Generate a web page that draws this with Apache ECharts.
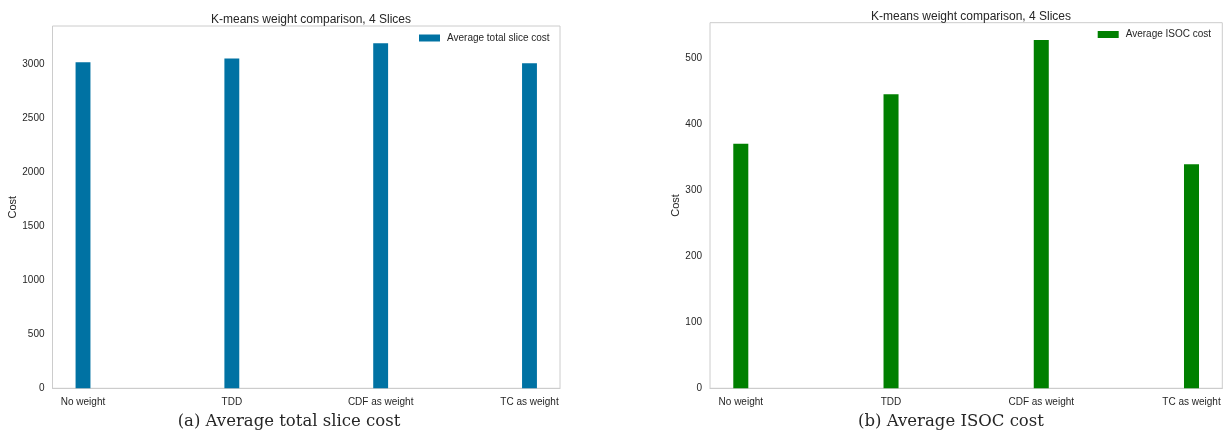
<!DOCTYPE html>
<html>
<head>
<meta charset="utf-8">
<script src="https://cdn.jsdelivr.net/npm/echarts@6/dist/echarts.min.js"></script>
<style>
  html, body { margin: 0; padding: 0; background: #fff; }
  #chart { width: 1230px; height: 432px; }
</style>
</head>
<body>
<div id="chart"></div>
<script>
// Weighting schemes compared in both panels
const categories = ['No weight', 'TDD', 'CDF as weight', 'TC as weight'];
// (a) average total slice cost per scheme
const totalSliceCost = [3015, 3050, 3190, 3005];
// (b) average ISOC cost per scheme
const isocCost = [370, 445, 527, 339];
// y-axis tick steps
const leftTickStep = 500;
const rightTickStep = 100;

const FONT = '"Liberation Sans", Arial, sans-serif';
const SERIF = '"DejaVu Serif", serif';
const TEXT = '#262626';
const FRAME = '#cccccc';
const BLUE = '#0072a3';
const GREEN = '#008000';

// bars sit at integer x positions with width 0.1; x range padded by 5% like matplotlib
const BAR_W = 0.1;
const xMin = -BAR_W / 2 - 0.05 * (categories.length - 1 + BAR_W);
const xMax = categories.length - 1 + BAR_W / 2 + 0.05 * (categories.length - 1 + BAR_W);

const grids = [
  { left: 52.5, top: 26, width: 507.5, height: 362.3 },
  { left: 710, top: 22.7, width: 512.3, height: 365.6 }
];
const barPx = grids.map(g => g.width / (xMax - xMin) * BAR_W);

function pairs(vals) { return vals.map((v, i) => [i, v]); }

function xAxis(gi) {
  return {
    type: 'value', gridIndex: gi, min: xMin, max: xMax,
    splitLine: { show: false },
    axisTick: { show: false },
    axisLine: { show: true, onZero: false, lineStyle: { color: FRAME, width: 1 } },
    axisLabel: {
      customValues: categories.map((c, i) => i),
      formatter: v => categories[Math.round(v)] || '',
      color: TEXT, fontFamily: FONT, fontSize: 10, margin: 9
    }
  };
}
function yAxis(gi, maxVal, step, gap) {
  return {
    type: 'value', gridIndex: gi, min: 0, max: maxVal * 1.05, interval: step,
    name: 'Cost', nameLocation: 'middle', nameRotate: 90, nameGap: gap,
    nameTextStyle: { color: TEXT, fontFamily: FONT, fontSize: 11 },
    splitLine: { show: false },
    axisTick: { show: false },
    axisLine: { show: false },
    axisLabel: { color: TEXT, fontFamily: FONT, fontSize: 10, margin: 8, showMaxLabel: false,
      formatter: v => String(v) }
  };
}

const chart = echarts.init(document.getElementById('chart'), null, { renderer: 'canvas' });
chart.setOption({
  animation: false,
  backgroundColor: '#fff',
  title: [
    { text: 'K-means weight comparison, 4 Slices', left: 306, top: 9, textAlign: 'center',
      textStyle: { color: TEXT, fontFamily: FONT, fontSize: 12, fontWeight: 'normal' } },
    { text: 'K-means weight comparison, 4 Slices', left: 966, top: 5.5, textAlign: 'center',
      textStyle: { color: TEXT, fontFamily: FONT, fontSize: 12, fontWeight: 'normal' } },
    { text: '(a) Average total slice cost', left: 284, top: 408, textAlign: 'center',
      textStyle: { color: TEXT, fontFamily: SERIF, fontSize: 16.5, fontWeight: 'normal' } },
    { text: '(b) Average ISOC cost', left: 946, top: 408, textAlign: 'center',
      textStyle: { color: TEXT, fontFamily: SERIF, fontSize: 16.5, fontWeight: 'normal' } }
  ],
  legend: [
    { data: ['Average total slice cost'], left: 419, top: 33, padding: 0,
      icon: 'rect', itemWidth: 21, itemHeight: 7, itemGap: 7,
      textStyle: { color: TEXT, fontFamily: FONT, fontSize: 10, padding: [0, 0, 0, 2] } },
    { data: ['Average ISOC cost'], left: 1097.7, top: 29.5, padding: 0,
      icon: 'rect', itemWidth: 21, itemHeight: 7, itemGap: 7,
      textStyle: { color: TEXT, fontFamily: FONT, fontSize: 10, padding: [0, 0, 0, 2] } }
  ],
  grid: grids.map(g => Object.assign({ show: true, borderColor: FRAME, borderWidth: 1, backgroundColor: '#fff' }, g)),
  xAxis: [xAxis(0), xAxis(1)],
  yAxis: [
    yAxis(0, Math.max(...totalSliceCost), leftTickStep, 31),
    yAxis(1, Math.max(...isocCost), rightTickStep, 27)
  ],
  series: [
    { name: 'Average total slice cost', type: 'bar', xAxisIndex: 0, yAxisIndex: 0,
      data: pairs(totalSliceCost), barWidth: barPx[0], itemStyle: { color: BLUE } },
    { name: 'Average ISOC cost', type: 'bar', xAxisIndex: 1, yAxisIndex: 1,
      data: pairs(isocCost), barWidth: barPx[1], itemStyle: { color: GREEN } }
  ]
});
</script>
</body>
</html>
